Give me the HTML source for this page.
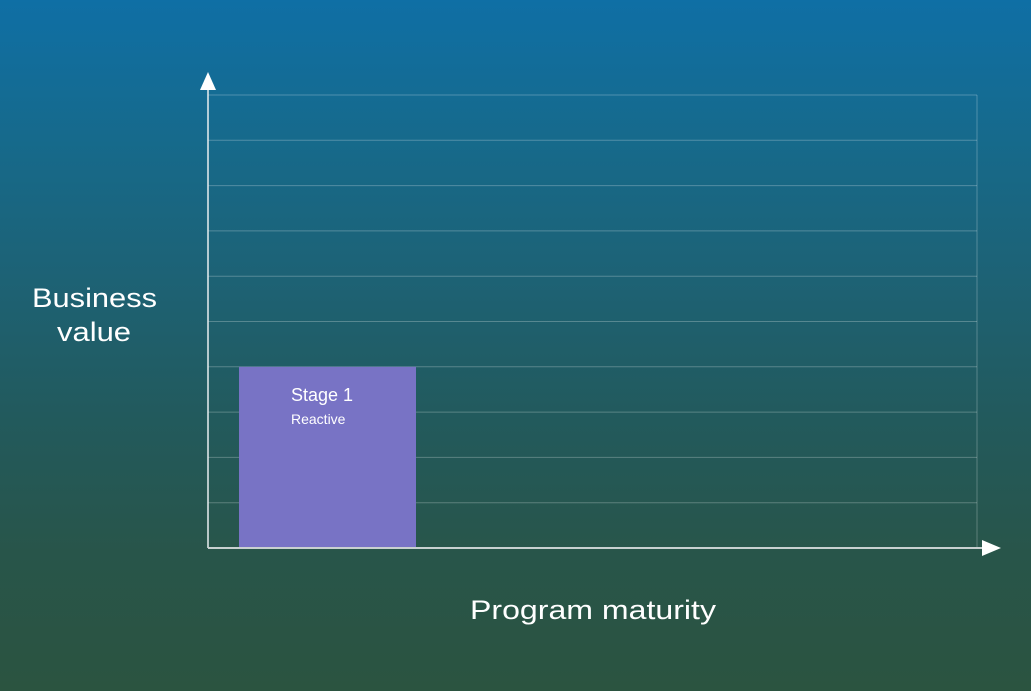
<!DOCTYPE html>
<html><head><meta charset="utf-8"><style>
html,body{margin:0;padding:0;width:1031px;height:691px;overflow:hidden;background:#2b5440}
svg{display:block}
</style></head><body>
<svg width="1031" height="691" style="font-family:'Liberation Sans',sans-serif">
<defs><linearGradient id="bg" x1="0" y1="0" x2="0" y2="1">
<stop offset="0" stop-color="#0f6fa5"/><stop offset="0.2" stop-color="#166a8c"/><stop offset="0.4" stop-color="#1d6275"/><stop offset="0.6" stop-color="#225a5d"/><stop offset="0.8" stop-color="#28554a"/><stop offset="1" stop-color="#2b5440"/></linearGradient></defs>
<rect x="0" y="0" width="1031" height="691" fill="url(#bg)"/>
<g id="grid"></g>
<g id="bars"></g>
<line x1="208" y1="548" x2="208" y2="80" stroke="#e8eef0" stroke-width="1.5"/>
<polygon points="208,72 200,90 216,90" fill="#fff"/>
<line x1="208" y1="548" x2="990" y2="548" stroke="#c8d0d0" stroke-width="2"/>
<polygon points="1001,548 982,540 982,556" fill="#fff"/>
<text x="32" y="307" fill="#fff" font-size="27" textLength="125" lengthAdjust="spacingAndGlyphs">Business</text>
<text x="57" y="341" fill="#fff" font-size="27" textLength="74" lengthAdjust="spacingAndGlyphs">value</text>
<text x="470" y="619" fill="#fff" font-size="27" textLength="246" lengthAdjust="spacingAndGlyphs">Program maturity</text>
</svg>
<script>
const categories=["Stage 1"];
const subLabels=["Reactive"];
const values=[4];
const gridTicks=[1,2,3,4,5,6,7,8,9,10];
const X0=208,X1=977,Y0=548,YT=95,MAX=10;
const y=v=>Y0-(Y0-YT)*v/MAX;
const ns="http://www.w3.org/2000/svg";
const g=document.getElementById('grid');
gridTicks.forEach(t=>{const l=document.createElementNS(ns,'line');
l.setAttribute('x1',X0);l.setAttribute('x2',X1);l.setAttribute('y1',y(t));l.setAttribute('y2',y(t));
l.setAttribute('stroke','rgba(255,255,255,0.25)');l.setAttribute('stroke-width','1');


g.appendChild(l);});
const vl=document.createElementNS(ns,'line');vl.setAttribute('x1',X1);vl.setAttribute('x2',X1);vl.setAttribute('y1',YT);vl.setAttribute('y2',Y0);vl.setAttribute('stroke','rgba(255,255,255,0.25)');


g.appendChild(vl);
const b=document.getElementById('bars');
const bw=177,step=177,start=239;
categories.forEach((c,i)=>{const x=start+i*step;
const r=document.createElementNS(ns,'rect');
r.setAttribute('x',x);r.setAttribute('y',y(values[i]));r.setAttribute('width',bw);r.setAttribute('height',Y0-y(values[i]));r.setAttribute('fill','#7873c5');


b.appendChild(r);
const t=document.createElementNS(ns,'text');t.setAttribute('x',x+52);t.setAttribute('y',y(values[i])+34);t.setAttribute('fill','#fff');t.setAttribute('font-size','18');t.textContent=c;


b.appendChild(t);
const s=document.createElementNS(ns,'text');s.setAttribute('x',x+52);s.setAttribute('y',y(values[i])+57);s.setAttribute('fill','#fff');s.setAttribute('font-size','14');s.textContent=subLabels[i];


b.appendChild(s);});
</script>
</body></html>
